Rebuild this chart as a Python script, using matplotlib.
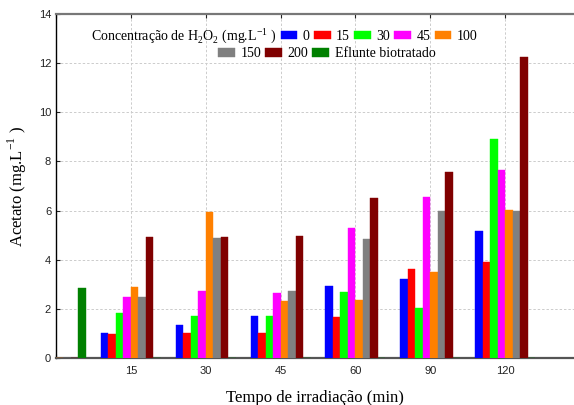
import matplotlib.pyplot as plt
import numpy as np
from matplotlib.patches import Rectangle

# categorias do eixo x (a primeira é o efluente, sem rótulo)
tempos = ['', '15', '30', '45', '60', '90', '120']

conc_0 = [0, 1.0, 1.35, 1.71, 2.92, 3.22, 5.16]
conc_15 = [0, 0.99, 1.0, 1.0, 1.67, 3.61, 3.91]
conc_30 = [0, 1.83, 1.72, 1.72, 2.69, 2.04, 8.9]
conc_45 = [0, 2.47, 2.71, 2.63, 5.3, 6.56, 7.66]
conc_100 = [0, 2.89, 5.93, 2.34, 2.38, 3.48, 6.03]
conc_150 = [0, 2.49, 4.88, 2.73, 4.83, 5.98, 5.99]
conc_200 = [0, 4.93, 4.94, 4.98, 6.52, 7.57, 12.25]
efluente = [2.85, 0, 0, 0, 0, 0, 0]

series = [conc_0, conc_15, conc_30, conc_45, conc_100, conc_150, conc_200, efluente]
rotulos = ['0', '15', '30', '45', '100', '150', '200', 'Eflunte biotratado']
cores = ['#0000ff', '#ff0000', '#00ff00', '#ff00ff', '#ff8000', '#808080', '#800000', '#008000']

fig = plt.figure(figsize=(5.74, 4.05), dpi=100)
ax = fig.add_axes([56/574, 47/405, 518/574, 344/405])

x = np.arange(len(tempos))
w = 0.1
barras = []
for i, (s, c) in enumerate(zip(series, cores)):
    b = ax.bar(x + (i - 3.5)*w, s, w, color=c, edgecolor=c, linewidth=0.3, zorder=3)
    barras.append(b)

ax.set_xlim(0.013, 6.92)
ax.set_ylim(0, 14)
ax.set_xticks(x)
ax.set_xticklabels(tempos, fontfamily='Liberation Sans', fontsize=8)
ax.set_yticks(np.arange(0, 15, 2))
ax.set_yticklabels([str(v) for v in range(0, 15, 2)], fontfamily='Liberation Sans', fontsize=8)
ax.tick_params(axis='both', direction='in', length=3, width=0.8, top=True, colors='#222222')
ax.tick_params(axis='x', pad=6)

ax.grid(True, linestyle=(0, (2.5, 2)), color='#cccccc', linewidth=0.7, zorder=0)
ax.set_axisbelow(True)

ax.spines['right'].set_visible(False)
ax.spines['left'].set_color('black')
ax.spines['left'].set_linewidth(1.0)
ax.spines['bottom'].set_color('#555555')
ax.spines['bottom'].set_linewidth(1.6)
ax.spines['top'].set_color('#777777')
ax.spines['top'].set_linewidth(1.6)

ax.set_xlabel('Tempo de irradiação (min)', fontfamily='Liberation Serif', fontsize=12, labelpad=10)
ax.set_ylabel('Acetato (mg.L$^{\\mathregular{-1}}$ )', fontfamily='Liberation Serif', fontsize=12, labelpad=7)

# legenda em duas linhas, com o título na mesma linha das primeiras entradas
fonte_leg = {'family': 'Liberation Serif', 'size': 10}
vazio = Rectangle((0, 0), 1, 1, alpha=0)
titulo = 'Concentração de H$_\\mathregular{2}$O$_\\mathregular{2}$ (mg.L$^{\\mathregular{-1}}$ )'
leg1 = ax.legend([vazio] + barras[:5], [titulo] + rotulos[:5], ncol=6,
                 loc='upper left', bbox_to_anchor=(0.025, 0.965), frameon=False,
                 prop=fonte_leg, handlelength=1.2, handleheight=0.6,
                 handletextpad=0.4, columnspacing=0.3, borderpad=0, borderaxespad=0)
ax.add_artist(leg1)
ax.legend(barras[5:], rotulos[5:], ncol=3,
          loc='upper left', bbox_to_anchor=(0.313, 0.903), frameon=False,
          prop=fonte_leg, handlelength=1.2, handleheight=0.6,
          handletextpad=0.4, columnspacing=0.3, borderpad=0, borderaxespad=0)

fig.savefig('out.png', dpi=100)
